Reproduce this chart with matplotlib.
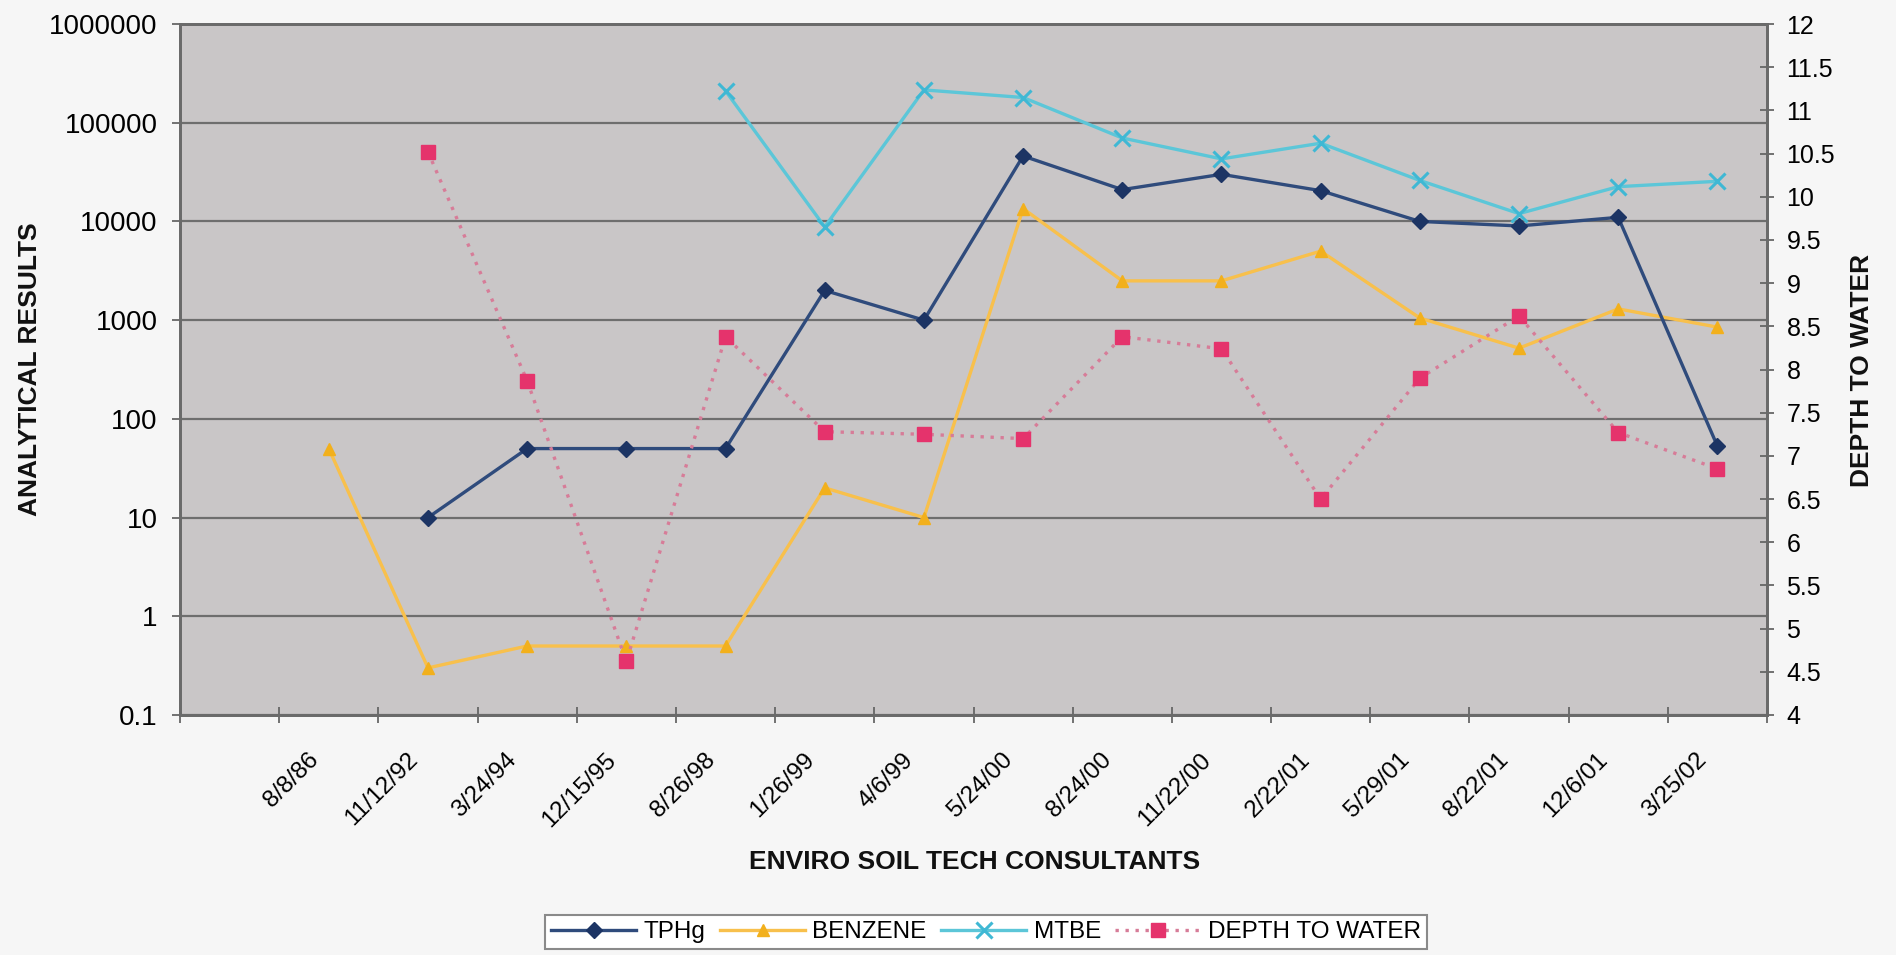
import numpy as np
import matplotlib
matplotlib.use("Agg")
import matplotlib.pyplot as plt
from matplotlib.transforms import ScaledTranslation
from matplotlib.ticker import NullLocator

plt.rcParams['font.family'] = ['Liberation Sans', 'DejaVu Sans']

nan = np.nan
dates = ['', '8/8/86', '11/12/92', '3/24/94', '12/15/95', '8/26/98', '1/26/99', '4/6/99',
         '5/24/00', '8/24/00', '11/22/00', '2/22/01', '5/29/01', '8/22/01', '12/6/01', '3/25/02']
tphg = [nan, nan, 10, 50, 50, 50, 2000, 1000, 46000, 21000, 30000, 20500, 10000, 9000, 11000, 53]
benzene = [nan, 50, 0.3, 0.5, 0.5, 0.5, 20, 10, 13500, 2500, 2500, 5000, 1050, 520, 1300, 850]
mtbe = [nan, nan, nan, nan, nan, 210000, 8800, 215000, 180000, 70000, 43000, 62000, 26000, 12000, 22500, 25500]
depth = [nan, nan, 10.52, 7.87, 4.62, 8.38, 7.28, 7.25, 7.2, 8.38, 8.24, 6.5, 7.9, 8.62, 7.27, 6.85]

left_ticks = [0.1, 1, 10, 100, 1000, 10000, 100000, 1000000]
left_labels = ['0.1', '1', '10', '100', '1000', '10000', '100000', '1000000']
right_ticks = list(np.arange(4, 12.01, 0.5))

W, H = 1896, 955
fig = plt.figure(figsize=(W / 100, H / 100), dpi=100, facecolor='#f6f6f6')
L, R, T, B = 180, 1767, 24, 715
ax = fig.add_axes([L / W, 1 - B / H, (R - L) / W, (B - T) / H])
ax.set_facecolor('#c9c6c7')

n = len(dates)
x = np.arange(n) + 0.5

ax.set_yscale('log')
ax.set_ylim(0.1, 1000000)
ax.set_xlim(0, n)
ax.set_yticks(left_ticks)
ax.set_yticklabels(left_labels)
ax.yaxis.set_minor_locator(NullLocator())
ax.yaxis.grid(True, color='#6e6e6e', linewidth=1.6)
ax.set_axisbelow(True)

l1, = ax.plot(x, tphg, color='#2f4b7c', lw=2.4, marker='D', ms=8.5,
              mfc='#1c3464', mec='#1c3464', label='TPHg', zorder=4)
l2, = ax.plot(x, benzene, color='#f8c04c', lw=2.4, marker='^', ms=9,
              mfc='#f2b01c', mec='#f2b01c', label='BENZENE', zorder=3)
l3, = ax.plot(x, mtbe, color='#5cc6d8', lw=2.4, marker='x', ms=11, mew=2.2,
              mec='#3fb8d4', label='MTBE', zorder=3)

ax2 = ax.twinx()
ax2.set_ylim(4, 12)
ax2.set_yticks(right_ticks)
ax2.set_yticklabels(['%g' % v for v in right_ticks])
ax2.yaxis.set_minor_locator(NullLocator())
l4, = ax2.plot(x, depth, color='#d77c98', lw=2.4, ls=(0, (1, 2)), marker='s', ms=10,
               mfc='#e5336c', mec='#e5336c', label='DEPTH TO WATER', zorder=5)

# x axis: tick marks at category boundaries, labels at category centers
ax.set_xticks(np.arange(0, n + 1))
ax.set_xticklabels([])
ax.set_xticks(x, minor=True)
ax.set_xticklabels(dates, minor=True, rotation=45, ha='right', va='center',
                   rotation_mode='anchor', fontsize=17.5)
ax.tick_params(axis='x', which='major', direction='inout', length=12, width=1.3, color='#666666')
ax.tick_params(axis='x', which='minor', length=0, pad=30)
off = ScaledTranslation(-14 / 100, 0, fig.dpi_scale_trans)
for lab in ax.get_xticklabels(minor=True):
    lab.set_transform(lab.get_transform() + off)

ax.tick_params(axis='y', which='major', direction='out', length=6, width=1.3,
               color='#666666', labelsize=20, pad=10)
ax2.tick_params(axis='y', which='major', direction='inout', length=10, width=1.3,
                color='#666666', labelsize=18, pad=9)

for a in (ax, ax2):
    for s in a.spines.values():
        s.set_color('#6a6a6a')
        s.set_linewidth(2)

fig.text(30 / W, 1 - 369 / H, 'ANALYTICAL RESULTS', rotation=90, ha='center', va='center',
         fontsize=19, fontweight='bold', color='#111111')
fig.text(1862 / W, 1 - 370 / H, 'DEPTH TO WATER', rotation=90, ha='center', va='center',
         fontsize=19, fontweight='bold', color='#111111')
fig.text(975 / W, 1 - 862 / H, 'ENVIRO SOIL TECH CONSULTANTS', ha='center', va='center',
         fontsize=19, fontweight='bold', color='#111111')

leg = fig.legend(handles=[l1, l2, l3, l4], loc='center', bbox_to_anchor=(986 / W, 1 - 932 / H),
                 ncol=4, fontsize=17.5, frameon=True, fancybox=False, edgecolor='#8a8a8a',
                 facecolor='#ffffff', framealpha=1, borderpad=0.25, handlelength=3.5,
                 handletextpad=0.3, columnspacing=0.6, borderaxespad=0)
leg.get_frame().set_linewidth(1.5)

fig.savefig('out.png', dpi=100, facecolor=fig.get_facecolor())
